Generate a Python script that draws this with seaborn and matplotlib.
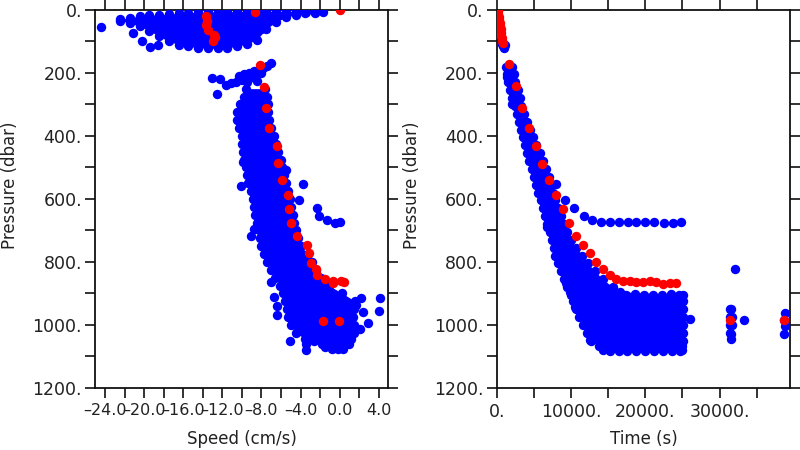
import matplotlib
matplotlib.use('Agg')
import matplotlib.pyplot as plt
import seaborn as sns
import pandas as pd
from matplotlib.ticker import MultipleLocator, FuncFormatter

BLUE = '#0000ff'
RED = '#ff0000'

# ---------------- left panel: speed (cm/s) vs pressure (dbar) ----------------
# near-surface cloud, given as columns: speed, upper and lower pressure
blob_x = [-22.5, -21.5, -20.5, -19.5, -18.5, -17.5, -16.5, -15.5, -14.5, -13.5, -12.5,
          -11.5, -10.5, -9.5, -8.5, -7.5, -6.5, -5.5, -4.5, -3.5, -2.5]
blob_top = [30, 25, 20, 17, 15, 13, 11, 9, 8, 7, 6, 6, 5, 5, 5, 5, 5, 5, 5, 6, 7]
blob_bot = [34, 42, 52, 66, 84, 100, 110, 116, 120, 122, 122, 120, 116, 108, 95, 60, 38, 24, 15, 11, 9]

# deep band, given as rows: pressure, lowest and highest speed
band_p = [250, 275, 300, 325, 350, 375, 400, 425, 450, 475, 500, 525, 550, 575, 600, 625,
          650, 675, 700, 725, 750, 775, 800, 825, 850, 875, 900, 925, 950, 975, 1000, 1025,
          1045, 1060, 1075]
band_lo = [-9.6, -9.8, -10.2, -10.5, -10.5, -10.3, -10.0, -10.0, -9.9, -9.8, -9.6, -9.5, -9.4,
           -9.1, -8.9, -8.8, -8.7, -8.5, -8.3, -8.2, -8.0, -7.7, -7.4, -7.0, -6.6, -6.1, -5.8,
           -5.6, -5.4, -5.3, -5.0, -4.5, -3.5, -1.8, -0.8]
band_hi = [-7.6, -7.4, -7.3, -7.3, -7.2, -7.0, -6.7, -6.5, -6.3, -6.0, -5.9, -5.7, -5.5,
           -5.3, -5.1, -5.0, -4.8, -4.7, -4.5, -4.3, -4.0, -3.2, -2.8, -2.4, -1.9, -1.1, 0.3,
           1.6, 1.5, 1.4, 1.5, 1.5, 1.2, 1.0, 0.4]

# scattered blue points
spd_x = [-24.5, -21.2, -20.3, -19.4, -18.6, -10.9, -9.7, -8.0, -7.6, -3.4, -2.5, -1.7,
         -7.06, -7.4, -7.8, -8.3, -8.8, -9.3, -9.8, -10.3, -10.0, -10.6, -11.1, -11.6,
         -9.0, -8.6, -8.0, -9.5, -8.5, -13.1, -12.3, -12.6,
         -9.9, -10.1, -8.8, -9.1, -5.5, -3.7, -4.2, -2.35, -2.1, -1.27, -0.48, 0.03,
         -7.06, -6.7, -6.4, -6.45, -5.1, -3.4, -3.45, 2.18, 4.1, 4.0, 2.4, 2.9, 1.7,
         -2.6, -1.5, -0.2, -2.8, 2.1]
spd_p = [54, 73, 100, 117, 113, 95, 32, 61, 40, 6, 8, 6,
         170, 178, 183, 190, 195, 200, 205, 210, 222, 228, 233, 238,
         213, 205, 200, 228, 225, 215, 219, 267,
         482, 559, 694, 718, 508, 553, 604, 630, 654, 667, 676, 673,
         865, 911, 941, 967, 1051, 1060, 1080, 914, 914, 955, 958, 993, 937,
         1052, 1070, 1078, 1040, 1012]

# red profile
spd_red_x = [-13.7, -13.6, -13.7, -13.5, -12.9, -12.8, -13.0, -8.7, 0.0, -8.2, -7.7, -7.5,
             -7.2, -6.45, -6.3, -5.9, -5.26, -5.2, -5.0, -4.4, -3.3, -3.1, -2.97, -2.46,
             -2.3, -1.47, -0.65, -0.65, 0.1, 0.45, -1.74, -0.07]
spd_red_p = [19, 34, 48, 63, 79, 87, 100, 8, 0, 175, 246, 310,
             376, 432, 487, 540, 588, 633, 678, 718, 747, 773, 802, 821,
             842, 855, 861, 868, 860, 864, 987, 987]

# ---------------- right panel: time (s) vs pressure (dbar) ----------------
tband_p = [180, 205, 230, 255, 280, 305, 330, 355, 380, 405, 430, 455, 480, 505, 530, 555,
           580, 605, 630, 655, 680, 705, 730, 755, 780, 805, 830, 855, 880, 895, 905, 925,
           950, 975, 1000, 1025, 1050, 1068, 1080]
tband_lo = [1300, 1350, 1500, 1800, 2100, 2400, 2700, 3000, 3300, 3500, 3800, 4100, 4400,
            4700, 5000, 5300, 5600, 5900, 6200, 6500, 6800, 7100, 7400, 7700, 7900, 8200,
            8600, 9000, 9500, 9800, 10000, 10200, 10600, 11100, 11600, 12100, 12700, 13800,
            14300]
tband_hi = [2000, 2300, 2500, 2800, 3100, 3300, 3700, 4100, 4500, 4900, 5300, 5800, 6200,
            6600, 7000, 7300, 7600, 7900, 8200, 8600, 9000, 9400, 10000, 10700, 11500, 12300,
            13200, 14300, 15600, 16600, 25100, 25100, 25100, 25100, 25100, 25100, 25100,
            25000, 25000]

# scattered blue points (surface drop, the 680 dbar float, edges of the block, late fixes)
time_t = [100, 180, 300, 450, 600, 750, 900, 1050, 980,
          7990, 9200, 10420, 11680, 12800, 14020, 15180, 16390, 17610, 18780, 19990, 21200,
          22460, 23670, 24840,
          17400, 18600, 19800, 21000, 22200, 23400, 24600,
          15200, 16400, 17600, 18800, 20000, 21200, 22400, 23600, 24700,
          6820, 1350, 2020, 9340, 10550, 12580, 26060,
          32120, 33240, 31400, 31600, 31400, 31650, 31350, 31650, 31450, 31600, 31500,
          38750, 38700, 38750, 38700]
time_p = [0, 20, 45, 70, 92, 108, 115, 112, 120,
          553, 602, 629, 654, 668, 673, 674, 674, 674, 674, 674, 674,
          677, 677, 674,
          905, 903, 905, 904, 906, 903, 905,
          1082, 1083, 1082, 1083, 1082, 1083, 1082, 1083, 1082,
          689, 212, 300, 866, 943, 1049, 980,
          824, 985, 950, 948, 975, 975, 1000, 1000, 1025, 1030, 1045,
          962, 985, 1005, 1030]

time_red_t = [130, 200, 260, 320, 380, 440, 500, 560, 620, 680, 740, 800,
              1700, 2560, 3450, 4350, 5300, 6150, 7050, 8000, 8900, 9790, 10690, 11590,
              12490, 13390, 14290, 15180, 16080, 16985, 17880, 18780, 19680, 20570, 21470,
              22380, 23270, 24170, 31450, 38730]
time_red_p = [2, 12, 22, 32, 42, 52, 62, 72, 82, 90, 98, 104,
              173, 242, 310, 376, 432, 488, 540, 588, 632, 678, 717, 746,
              773, 800, 821, 842, 855, 860, 862, 864, 864, 861, 864,
              869, 866, 866, 985, 985]

sns.set_style('ticks')
plt.rcParams['font.family'] = ['DejaVu Sans']
fig = plt.figure(figsize=(8, 4.5), dpi=100)
ax1 = fig.add_axes([0.119, 0.138, 0.366, 0.840])
ax2 = fig.add_axes([0.621, 0.138, 0.367, 0.840])

DOT = 46

# left panel
ax1.fill_between(blob_x, blob_top, blob_bot, color=BLUE, lw=0, zorder=2)
ax1.fill_betweenx(band_p, band_lo, band_hi, color=BLUE, lw=0, zorder=2)
blue1 = pd.DataFrame({
    'speed': blob_x + blob_x + band_lo + band_hi + spd_x,
    'pres': blob_top + blob_bot + band_p + band_p + spd_p})
sns.scatterplot(data=blue1, x='speed', y='pres', color=BLUE, s=DOT, linewidth=0,
                ax=ax1, zorder=3)
sns.scatterplot(x=spd_red_x, y=spd_red_p, color=RED, s=DOT, linewidth=0, ax=ax1, zorder=4)

# right panel
ax2.fill_betweenx(tband_p, tband_lo, tband_hi, color=BLUE, lw=0, zorder=2)
blue2 = pd.DataFrame({
    'time': tband_lo + tband_hi + time_t,
    'pres': tband_p + tband_p + time_p})
sns.scatterplot(data=blue2, x='time', y='pres', color=BLUE, s=DOT, linewidth=0,
                ax=ax2, zorder=3)
sns.scatterplot(x=time_red_t, y=time_red_p, color=RED, s=DOT, linewidth=0, ax=ax2, zorder=4)


def fmt_int(step):
    def f(v, pos):
        if round(v) % step != 0:
            return ''
        return f'{v:.0f}.'
    return FuncFormatter(f)


def fmt_one(step):
    def f(v, pos):
        if round(v) % step != 0:
            return ''
        return f'{v:.1f}'.replace('-', '\u2013')
    return FuncFormatter(f)


ax1.set_xlim(-25.05, 4.97)
ax1.xaxis.set_major_locator(MultipleLocator(2))
ax1.xaxis.set_major_formatter(fmt_one(4))
ax2.set_xlim(0, 39540)
ax2.xaxis.set_major_locator(MultipleLocator(5000))
ax2.xaxis.set_major_formatter(fmt_int(10000))

for ax in (ax1, ax2):
    ax.set_ylim(1200, 0)
    ax.yaxis.set_major_locator(MultipleLocator(100))
    ax.yaxis.set_major_formatter(fmt_int(200))
    ax.tick_params(direction='out', length=7, width=1.2, top=True, right=True,
                   labelsize=12.5, labelcolor='#222222', color='#111111', pad=2.5)
    ax.tick_params(axis='x', pad=4)
    for s in ax.spines.values():
        s.set_linewidth(1.3)
        s.set_color('#111111')
    ax.set_ylabel('Pressure (dbar)', fontsize=12, color='#222222', va='center')
    ax.yaxis.set_label_coords(-0.29, 0.537)
    ax.set_facecolor('white')

# the speed labels sit close together, as in the original
ax1.tick_params(axis='x', labelsize=11.5)

ax1.set_xlabel('Speed (cm/s)', fontsize=12, color='#222222', va='center')
ax2.set_xlabel('Time (s)', fontsize=12, color='#222222', va='center')
ax1.xaxis.set_label_coords(0.5, -0.135)
ax2.xaxis.set_label_coords(0.5, -0.135)

fig.savefig('out.png', dpi=100, facecolor='white')
